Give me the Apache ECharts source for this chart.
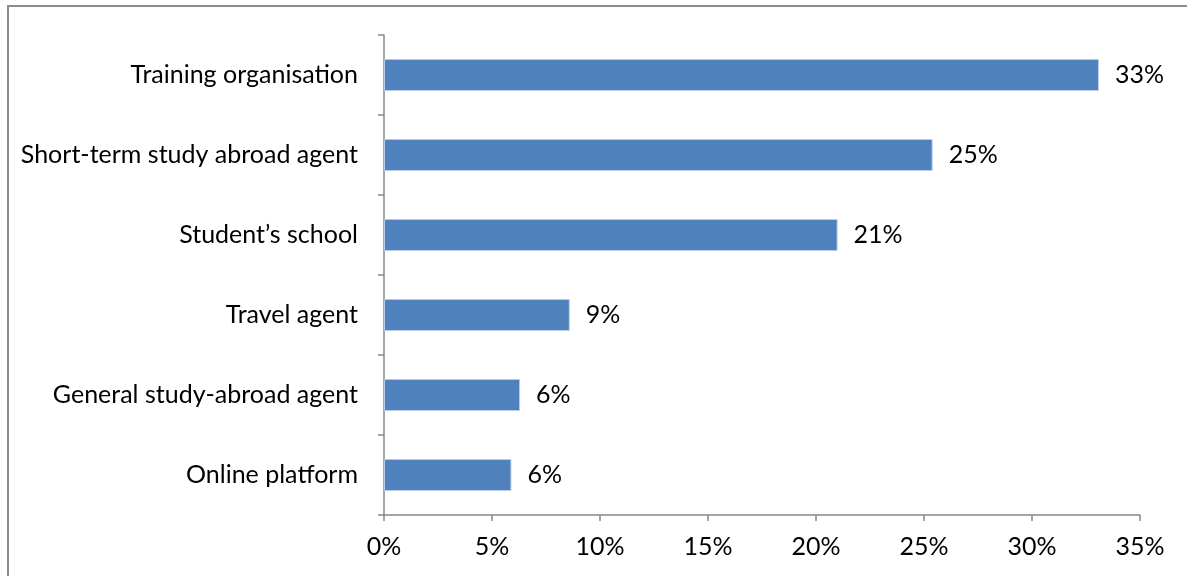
<!DOCTYPE html>
<html>
<head>
<meta charset="utf-8">
<script src="https://cdn.jsdelivr.net/npm/echarts@6/dist/echarts.min.js"></script>
<style>
  html, body { margin: 0; padding: 0; background: #fff; }
  #frame { position: absolute; left: 7px; top: 5px; width: 1200px; height: 600px; border: 2px solid #8c8c8c; box-sizing: border-box; }
  #chart { position: absolute; left: 0; top: 0; width: 1187px; height: 576px; }
</style>
</head>
<body>
<div id="frame"></div>
<div id="chart"></div>
<script>
// Channels used, share of respondents (%)
const categories = [
  'Training organisation',
  'Short-term study abroad agent',
  'Student\u2019s school',
  'Travel agent',
  'General study-abroad agent',
  'Online platform'
];
const shares = [33.1, 25.4, 21.0, 8.6, 6.3, 5.9];
const xTicks = [0, 5, 10, 15, 20, 25, 30, 35];

const FONT = 'Lato';
const FONT_SIZE = 25;
const AXIS_GREY = '#888888';

const chart = echarts.init(document.getElementById('chart'), null, { renderer: 'canvas' });
chart.setOption({
  animation: false,
  backgroundColor: 'transparent',
  grid: { left: 384, right: 47, top: 35, bottom: 61, containLabel: false },
  xAxis: {
    type: 'value',
    min: xTicks[0],
    max: xTicks[xTicks.length - 1],
    interval: 5,
    splitLine: { show: false },
    axisLine: { show: true, lineStyle: { color: AXIS_GREY, width: 1.5 } },
    axisTick: { show: true, length: 6, lineStyle: { color: AXIS_GREY, width: 1.5 } },
    axisLabel: {
      color: '#000', fontFamily: FONT, fontSize: FONT_SIZE, margin: 19,
      formatter: v => v + '%'
    }
  },
  yAxis: {
    type: 'category',
    data: categories,
    inverse: true,
    axisLine: { show: true, lineStyle: { color: AXIS_GREY, width: 1.5 } },
    axisTick: { show: true, length: 6, alignWithLabel: false, lineStyle: { color: AXIS_GREY, width: 1.5 } },
    axisLabel: { color: '#000', fontFamily: FONT, fontSize: FONT_SIZE, margin: 26 }
  },
  series: [{
    type: 'bar',
    data: shares,
    barWidth: '40%',
    itemStyle: { color: '#4F81BD', borderColor: '#b9cde5', borderWidth: 1 },
    label: {
      show: true,
      position: 'right',
      distance: 16,
      color: '#000',
      fontFamily: FONT,
      fontSize: FONT_SIZE,
      formatter: p => Math.round(p.value) + '%'
    }
  }]
});
</script>
</body>
</html>
